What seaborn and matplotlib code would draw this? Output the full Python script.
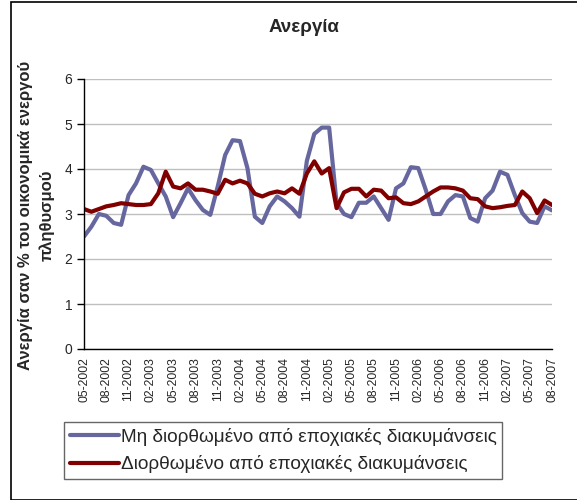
import matplotlib

matplotlib.use("Agg")

import matplotlib.pyplot as plt
import pandas as pd
import seaborn as sns
from matplotlib.patches import Rectangle

# monthly values, 05-2002 .. 08-2007
months = pd.date_range("2002-05-01", "2007-08-01", freq="MS")

not_adjusted = [
    2.50, 2.72, 3.00, 2.96, 2.80, 2.76, 3.42, 3.68, 4.05, 3.98,
    3.68, 3.39, 2.93, 3.24, 3.57, 3.31, 3.09, 2.98, 3.61, 4.31,
    4.64, 4.62, 4.02, 2.94, 2.80, 3.17, 3.39, 3.28, 3.13, 2.94,
    4.18, 4.78, 4.92, 4.92, 3.24, 3.00, 2.93, 3.25, 3.25, 3.39,
    3.13, 2.87, 3.57, 3.68, 4.04, 4.02, 3.54, 3.00, 3.00, 3.28,
    3.42, 3.39, 2.91, 2.83, 3.35, 3.52, 3.94, 3.87, 3.42, 3.02,
    2.83, 2.80, 3.17, 3.08,
]
adjusted = [
    3.11, 3.05, 3.11, 3.17, 3.20, 3.24, 3.22, 3.20, 3.20, 3.22,
    3.46, 3.94, 3.61, 3.57, 3.68, 3.54, 3.54, 3.50, 3.45, 3.76,
    3.68, 3.74, 3.68, 3.45, 3.39, 3.46, 3.50, 3.46, 3.57, 3.45,
    3.90, 4.17, 3.90, 4.02, 3.13, 3.48, 3.56, 3.56, 3.39, 3.54,
    3.52, 3.35, 3.37, 3.24, 3.22, 3.28, 3.39, 3.50, 3.59, 3.59,
    3.57, 3.52, 3.35, 3.33, 3.17, 3.13, 3.15, 3.18, 3.20, 3.50,
    3.35, 3.02, 3.30, 3.20,
]

series_names = [
    "Μη διορθωμένο από εποχιακές διακυμάνσεις",
    "Διορθωμένο από εποχιακές διακυμάνσεις",
]
series_colors = ["#6767A0", "#800000"]

df = pd.DataFrame({
    "idx": list(range(len(months))) * 2,
    "value": not_adjusted + adjusted,
    "series": [series_names[0]] * len(months) + [series_names[1]] * len(months),
})

sns.set_style("white")
plt.rcParams["font.family"] = ["Liberation Sans", "DejaVu Sans"]

fig = plt.figure(figsize=(5.77, 5.0), dpi=100)
ax = fig.add_axes([84 / 577, 1 - 349 / 500, (552 - 84) / 577, (349 - 79) / 500])

sns.lineplot(
    data=df, x="idx", y="value", hue="series",
    palette=dict(zip(series_names, series_colors)),
    linewidth=3, ax=ax, legend=False,
)

ax.set_xlim(0, len(months) - 1)
ax.set_ylim(0, 6)
ax.set_yticks(range(0, 7))
ax.yaxis.grid(True, color="#BFBFBF", linewidth=1)
ax.set_axisbelow(True)

tick_idx = list(range(0, len(months), 3))
ax.set_xticks(tick_idx)
ax.set_xticklabels([months[i].strftime("%m-%Y") for i in tick_idx],
                   rotation=90, fontsize=8.7)
ax.tick_params(axis="x", direction="in", length=4, width=1, color="black", pad=6)
ax.tick_params(axis="y", direction="out", length=5, width=1, color="black",
               labelsize=10, left=True)
ax.set_xlabel("")
ax.set_ylabel("")

for side in ["top", "right"]:
    ax.spines[side].set_visible(False)
for side in ["left", "bottom"]:
    ax.spines[side].set_color("black")
    ax.spines[side].set_linewidth(1)

fig.text(304 / 577, 1 - 28 / 500, "Ανεργία", ha="center", va="center",
         fontsize=13.5, fontweight="bold")
fig.text(36.5 / 577, 1 - 215 / 500,
         "Ανεργία σαν % του οικονομικά ενεργού\nπληθυσμού",
         ha="center", va="center", rotation=90, fontsize=12,
         fontweight="bold", linespacing=1.5)

handles = [plt.Line2D([], [], color=c, linewidth=3) for c in series_colors]
leg = fig.legend(handles, series_names, loc="upper left",
                 bbox_to_anchor=(64 / 577, 1 - 422 / 500), fontsize=13.7,
                 frameon=True, fancybox=False, handlelength=2.6,
                 handletextpad=0.08, borderpad=0.3, labelspacing=0.5,
                 borderaxespad=0)
leg.get_frame().set_edgecolor("#404040")
leg.get_frame().set_linewidth(1)

fig.patches.append(Rectangle((11 / 577, 0), 1, 1 - 2 / 500, transform=fig.transFigure,
                             fill=False, edgecolor="black", linewidth=1.2))

fig.savefig("out.png", dpi=100)
